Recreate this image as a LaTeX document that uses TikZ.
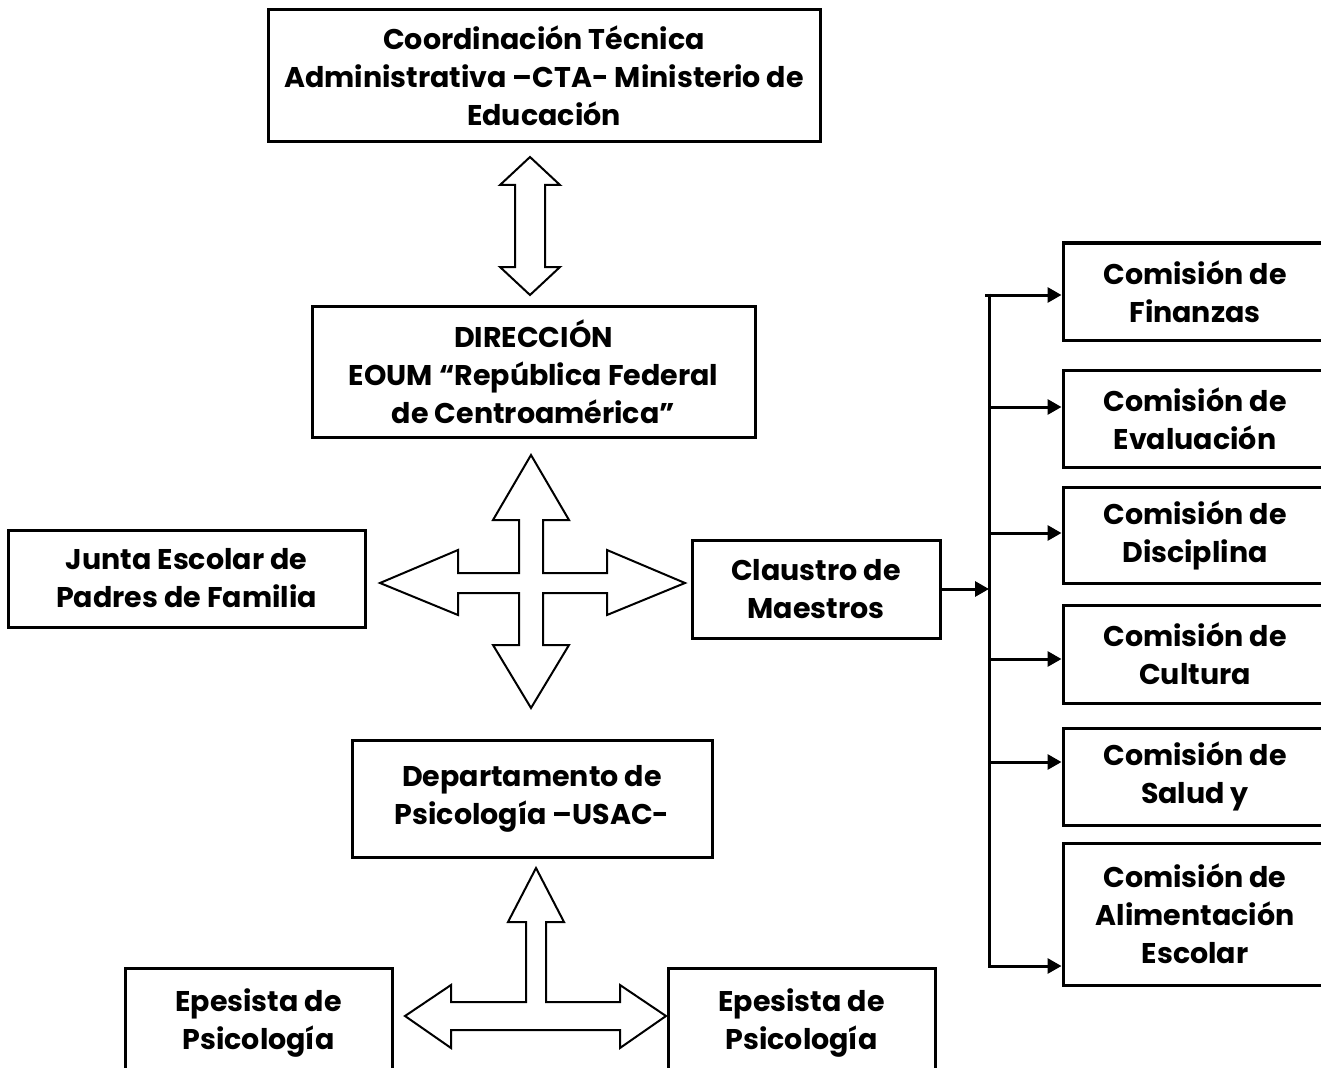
\documentclass[tikz,border=0pt]{standalone}
\usepackage{fontspec}
\setmainfont{Poppins}
\usetikzlibrary{arrows.meta}
\tikzset{
  box/.style = {draw, line width = 3pt, align = center, inner sep = 0pt,
    font = \fontsize{28.5}{38}\selectfont\bfseries},
  blockarrow/.style = {draw, line width = 2pt, line join = miter, fill = white},
  conn/.style = {line width = 3pt, -{Triangle[length = 14pt, width = 15pt]}}
}
\begin{document}
\begin{tikzpicture}[x = 1pt, y = -1pt]
      \clip (0,0) rectangle (1321,1067);
      \fill[white] (0,0) rectangle (1321,1067);
      % top
      \node[box, minimum width = 552pt, minimum height = 132pt] at (544,76) (cta)
        {Coordinación Técnica\\Administrativa –CTA- Ministerio de\\Educación};
      \node[box, minimum width = 443pt, minimum height = 131pt] at (533.5,371.5) (dir)
        {DIRECCIÓN\\EOUM “República Federal\\de Centroamérica”};
      \draw[blockarrow] (530,157) -- (560,185) -- (545,185) -- (545,267) -- (560,267)
        -- (530,295) -- (500,267) -- (515,267) -- (515,185) -- (500,185) -- cycle;
      % middle
      \node[box, minimum width = 357pt, minimum height = 97pt] at (186.5,578.5) (junta)
        {Junta Escolar de\\Padres de Familia};
      \node[box, minimum width = 248pt, minimum height = 98pt] at (816,589) (cla)
        {Claustro de\\Maestros};
      \draw[blockarrow] (531,455) -- (569,520) -- (543,520) -- (543,573) -- (607,573)
        -- (607,550) -- (685,583) -- (607,615) -- (607,593) -- (543,593) -- (543,645)
        -- (569,645) -- (531,708) -- (493,645) -- (519,645) -- (519,593) -- (458,593)
        -- (458,615) -- (380,583) -- (458,550) -- (458,573) -- (519,573) -- (519,520)
        -- (493,520) -- cycle;
      % bottom
      \node[box, minimum width = 360pt, minimum height = 117pt] at (532,798.5) (dep)
        {Departamento de\\Psicología –USAC-};
      \node[box, minimum width = 267pt, minimum height = 110pt] at (258.5,1023) (epl)
        {Epesista de\\Psicología};
      \node[box, minimum width = 267pt, minimum height = 110pt] at (801.5,1023) (epr)
        {Epesista de\\Psicología};
      \draw[blockarrow] (536,868) -- (564,922) -- (546,922) -- (546,1002) -- (620,1002)
        -- (620,985) -- (666,1016) -- (620,1048) -- (620,1030) -- (451,1030)
        -- (451,1048) -- (405,1016) -- (451,985) -- (451,1002) -- (526,1002)
        -- (526,922) -- (508,922) -- cycle;
      % commissions
      \node[box, minimum width = 264pt, minimum height = 97pt] at (1195,291.5) (fin)
        {Comisión de\\Finanzas};
      \node[box, minimum width = 264pt, minimum height = 97pt] at (1195,418.5) (eva)
        {Comisión de\\Evaluación};
      \node[box, minimum width = 264pt, minimum height = 96pt] at (1195,535) (dis)
        {Comisión de\\Disciplina};
      \node[box, minimum width = 264pt, minimum height = 98pt] at (1195,654) (cul)
        {Comisión de\\Cultura};
      \node[box, minimum width = 264pt, minimum height = 97pt] at (1195,776.5) (sal)
        {Comisión de\\Salud y};
      \node[box, minimum width = 264pt, minimum height = 142pt] at (1195,914) (ali)
        {Comisión de\\Alimentación\\Escolar};
      % trunk
      \coordinate (T0) at (985,295);
      \coordinate (T1) at (989,295);
      \coordinate (T2) at (989,407);
      \coordinate (T3) at (989,533);
      \coordinate (T4) at (989,659);
      \coordinate (T5) at (989,762);
      \coordinate (T6) at (989,966);
      \draw[line width = 3pt] (989,293.5) -- (989,967.5);
      \draw[conn] (cla.east) -- (cla.east -| T1);
      \draw[conn] (T0) -- (T0 -| fin.west);
      \draw[conn] (T2) -- (T2 -| eva.west);
      \draw[conn] (T3) -- (T3 -| dis.west);
      \draw[conn] (T4) -- (T4 -| cul.west);
      \draw[conn] (T5) -- (T5 -| sal.west);
      \draw[conn] (T6) -- (T6 -| ali.west);
    \end{tikzpicture}
\end{document}
